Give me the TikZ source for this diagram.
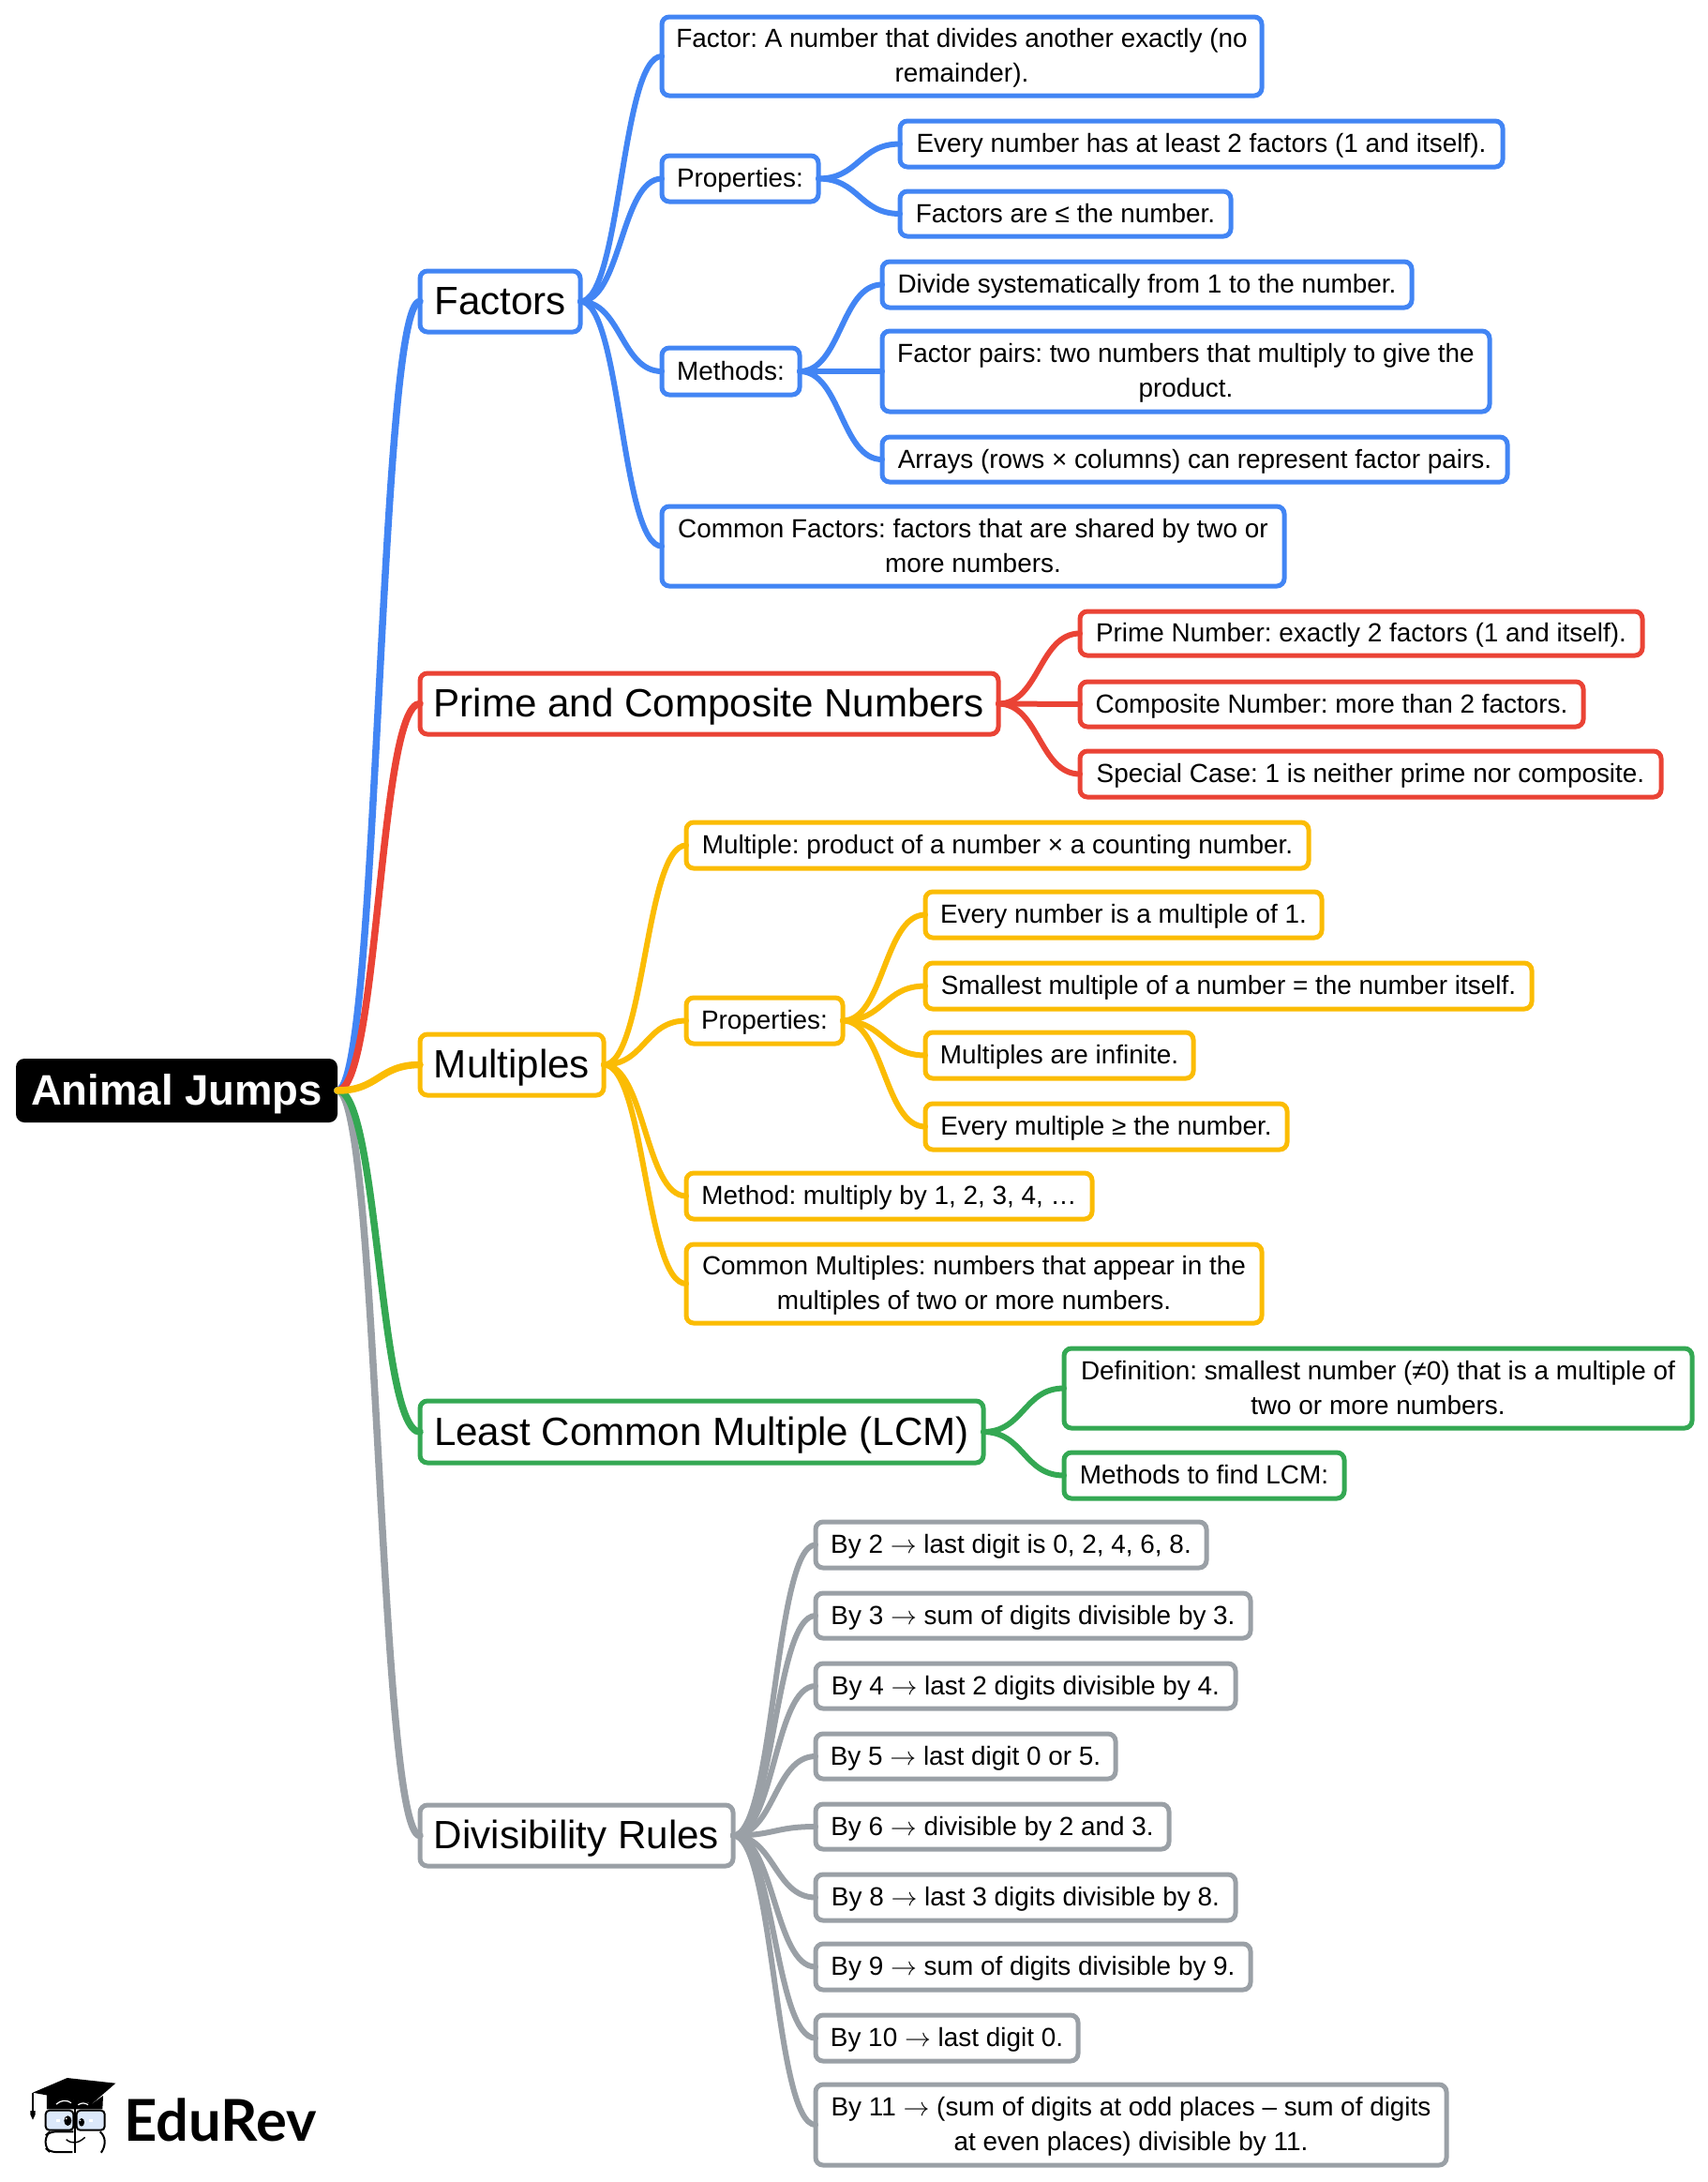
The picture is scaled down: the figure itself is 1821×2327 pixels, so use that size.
\RequirePackage{fix-cm}
\documentclass[tikz,border=0pt]{standalone}
\usepackage{fontspec}
\setmainfont{Liberation Sans}
\newfontfamily\logofont{Lato}
\usetikzlibrary{calc}
\frenchspacing
\definecolor{cblue}{HTML}{4285F4}
\definecolor{cred}{HTML}{EA4335}
\definecolor{cyellow}{HTML}{FBBC04}
\definecolor{cgreen}{HTML}{34A853}
\definecolor{cgray}{HTML}{9AA0A6}
\definecolor{cglass}{HTML}{DCE8FA}
\newcommand\arr{$\rightarrow$}
\newcommand\twol{\rule{0pt}{29pt}}
\tikzset{
  boxbase/.style={draw=#1,line width=5pt,rounded corners=8pt,fill=white,inner sep=0pt,outer sep=0pt,align=center,text=black},
  leaf/.style={boxbase=#1,font=\frenchspacing\fontsize{27.9}{37}\selectfont,
    execute at begin node=\rule{0pt}{29pt},execute at end node=\rule[-11pt]{0pt}{0pt}},
  topic/.style={boxbase=#1,font=\fontsize{42.1}{50}\selectfont,
    execute at begin node=\rule{0pt}{43pt},execute at end node=\rule[-15pt]{0pt}{0pt}},
  rootbox/.style={fill=black,text=white,rounded corners=9pt,inner sep=0pt,outer sep=0pt,align=center,font=\bfseries\fontsize{45.5}{54}\selectfont,
    execute at begin node=\rule{0pt}{46pt},execute at end node=\rule[-16pt]{0pt}{0pt}},
  link/.style={draw=#1,line width=6pt,line cap=round},
  mainlink/.style={draw=#1,line width=7.5pt,line cap=round},
}
% style, name, x0, y0, x1, y1, text
\newcommand\nd[7]{\node[#1,minimum width={(#5-#3)*1pt},minimum height={(#6-#4)*1pt}] (#2) at ({(#3+#5)/2},{(#4+#6)/2}) {#7};}
% style, parent, child
\newcommand\conn[3]{\draw[#1] (#2.east) .. controls ($(#2.east)!0.5!(#3.west |- #2.east)$) and ($(#3.west)!0.5!(#2.east |- #3.west)$) .. (#3.west);}
\begin{document}
\begin{tikzpicture}[x=1pt,y=-1pt]
\useasboundingbox (0,0) rectangle (1821,2327);
\fill[white] (0,0) rectangle (1821,2327);
% nodes
\nd{rootbox}{root}{17}{1129}{360}{1197}{Animal Jumps}
\nd{topic=cblue}{factors}{448}{289}{619}{354}{Factors}
\nd{leaf=cblue}{f1}{706}{18}{1346}{102}{\twol Factor: A number that divides another exactly (no\\remainder).}
\nd{leaf=cblue}{f2}{706}{166}{873}{215}{Properties:}
\nd{leaf=cblue}{f21}{960}{129}{1603}{178}{Every number has at least 2 factors (1 and itself).}
\nd{leaf=cblue}{f22}{960}{204}{1313}{252}{Factors are ≤ the number.}
\nd{leaf=cblue}{f3}{706}{371}{853}{421}{Methods:}
\nd{leaf=cblue}{f31}{941}{279}{1506}{328}{Divide systematically from 1 to the number.}
\nd{leaf=cblue}{f32}{941}{353}{1589}{439}{\twol Factor pairs: two numbers that multiply to give the\\product.}
\nd{leaf=cblue}{f33}{941}{466}{1608}{514}{Arrays (rows × columns) can represent factor pairs.}
\nd{leaf=cblue}{f4}{706}{540}{1370}{625}{\twol Common Factors: factors that are shared by two or\\more numbers.}
\nd{topic=cred}{prime}{448}{718}{1065}{783}{Prime and Composite Numbers}
\nd{leaf=cred}{p1}{1152}{652}{1752}{699}{Prime Number: exactly 2 factors (1 and itself).}
\nd{leaf=cred}{p2}{1152}{727}{1689}{775}{Composite Number: more than 2 factors.}
\nd{leaf=cred}{p3}{1152}{801}{1772}{850}{Special Case: 1 is neither prime nor composite.}
\nd{topic=cyellow}{mult}{448}{1103}{644}{1168}{Multiples}
\nd{leaf=cyellow}{m1}{732}{877}{1396}{926}{Multiple: product of a number × a counting number.}
\nd{leaf=cyellow}{m2}{732}{1064}{899}{1113}{Properties:}
\nd{leaf=cyellow}{m21}{987}{951}{1410}{1000}{Every number is a multiple of 1.}
\nd{leaf=cyellow}{m22}{987}{1027}{1634}{1076}{Smallest multiple of a number = the number itself.}
\nd{leaf=cyellow}{m23}{987}{1101}{1273}{1150}{Multiples are infinite.}
\nd{leaf=cyellow}{m24}{987}{1177}{1373}{1226}{Every multiple ≥ the number.}
\nd{leaf=cyellow}{m3}{732}{1251}{1165}{1300}{Method: multiply by 1, 2, 3, 4, …}
\nd{leaf=cyellow}{m4}{732}{1327}{1346}{1411}{\twol Common Multiples: numbers that appear in the\\multiples of two or more numbers.}
\nd{topic=cgreen}{lcm}{448}{1494}{1049}{1560}{Least Common Multiple (LCM)}
\nd{leaf=cgreen}{l1}{1135}{1438}{1805}{1523}{\twol Definition: smallest number (≠0) that is a multiple of\\two or more numbers.}
\nd{leaf=cgreen}{l2}{1135}{1549}{1434}{1598}{Methods to find LCM:}
\nd{topic=cgray}{div}{448}{1925}{782}{1990}{Divisibility Rules}
\nd{leaf=cgray}{d1}{870}{1623}{1287}{1672}{By 2 \arr{} last digit is 0, 2, 4, 6, 8.}
\nd{leaf=cgray}{d2}{870}{1699}{1334}{1747}{By 3 \arr{} sum of digits divisible by 3.}
\nd{leaf=cgray}{d3}{870}{1774}{1318}{1822}{By 4 \arr{} last 2 digits divisible by 4.}
\nd{leaf=cgray}{d4}{870}{1849}{1190}{1897}{By 5 \arr{} last digit 0 or 5.}
\nd{leaf=cgray}{d5}{870}{1924}{1247}{1972}{By 6 \arr{} divisible by 2 and 3.}
\nd{leaf=cgray}{d6}{870}{1999}{1318}{2048}{By 8 \arr{} last 3 digits divisible by 8.}
\nd{leaf=cgray}{d7}{870}{2073}{1334}{2122}{By 9 \arr{} sum of digits divisible by 9.}
\nd{leaf=cgray}{d8}{870}{2149}{1150}{2198}{By 10 \arr{} last digit 0.}
\nd{leaf=cgray}{d9}{870}{2223}{1543}{2309}{\twol By 11 \arr{} (sum of digits at odd places – sum of digits\\at even places) divisible by 11.}
% connectors
\conn{mainlink=cblue}{root}{factors}
\conn{mainlink=cred}{root}{prime}
\conn{mainlink=cgray}{root}{div}
\conn{mainlink=cgreen}{root}{lcm}
\conn{mainlink=cyellow}{root}{mult}
\foreach \c in {f1,f2,f3,f4}{\conn{link=cblue}{factors}{\c}}
\foreach \c in {f21,f22}{\conn{link=cblue}{f2}{\c}}
\foreach \c in {f31,f32,f33}{\conn{link=cblue}{f3}{\c}}
\foreach \c in {p1,p2,p3}{\conn{link=cred}{prime}{\c}}
\foreach \c in {m1,m2,m3,m4}{\conn{link=cyellow}{mult}{\c}}
\foreach \c in {m21,m22,m23,m24}{\conn{link=cyellow}{m2}{\c}}
\foreach \c in {l1,l2}{\conn{link=cgreen}{lcm}{\c}}
\foreach \c in {d1,d2,d3,d4,d5,d6,d7,d8,d9}{\conn{link=cgray}{div}{\c}}
% logo
\node[anchor=base west,inner sep=0pt,font=\logofont\bfseries\fontsize{61.5}{62}\selectfont,text=black] (edurev) at (132,2283) {EduRev};
\begin{scope}[shift={(0,2190)},x=0.33333pt,y=-0.33333pt]
  \fill[black] (150,130) -- (295,160) -- (330,135) -- (328,178) -- (150,178) -- cycle;
  \fill[black] (105,125) -- (215,78) -- (370,95) -- (295,160) -- cycle;
  \draw[black,line width=1.5pt] (105,125) -- (105,185);
  \fill[black] (97,183) -- (113,183) -- (113,195) -- (105,212) -- (97,195) -- cycle;
  \draw[white,line width=1.2pt] (180,162) .. controls (195,148) and (215,148) .. (228,158);
  \draw[white,line width=1.2pt] (250,164) .. controls (260,157) and (272,157) .. (282,164);
  \draw[black,fill=cglass,line width=2pt,rounded corners=4pt] (146,182) rectangle (235,245);
  \draw[black,fill=cglass,line width=2pt,rounded corners=4pt] (245,182) rectangle (335,245);
  \draw[black,line width=2pt,rounded corners=6pt] (235,250) -- (160,250) -- (146,262) -- (146,303) -- (160,315) -- (232,315);
  \draw[black,line width=2pt,rounded corners=6pt] (320,250) -- (335,262) -- (335,303) -- (325,315);
  \draw[black,line width=2pt] (240,175) -- (240,318);
  \fill[black] (217,215) ellipse [x radius=12,y radius=16];
  \fill[black] (261,220) ellipse [x radius=9,y radius=13];
  \fill[white] (180,210) rectangle (193,220);
  \fill[white] (285,210) rectangle (298,220);
  \fill[white] (212,208) circle [radius=3];
  \fill[white] (257,214) circle [radius=2.5];
  \draw[black,line width=1.5pt] (212,275) .. controls (230,290) and (250,288) .. (272,268);
\end{scope}
\end{tikzpicture}
\end{document}
